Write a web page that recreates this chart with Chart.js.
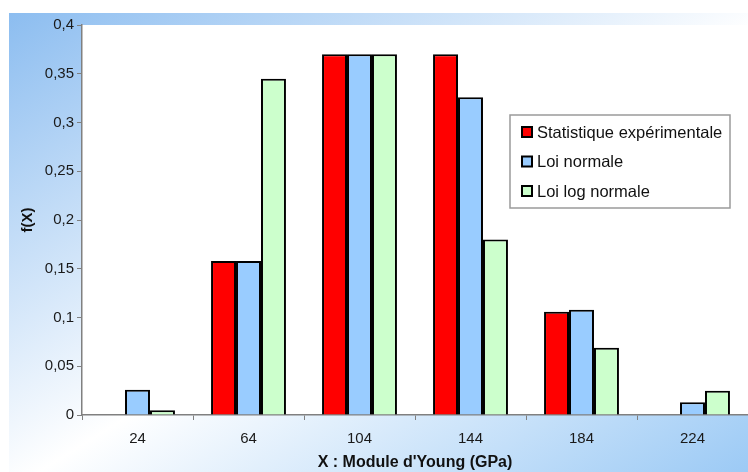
<!DOCTYPE html>
<html>
<head>
<meta charset="utf-8">
<script src="https://cdn.jsdelivr.net/npm/chart.js@4"></script>
<style>
  html, body { margin: 0; padding: 0; background: #ffffff; }
  #frame {
    position: absolute; left: 9px; top: 13px; width: 739px; height: 459px;
    background: linear-gradient(to bottom right, #8cbdf0 0%, #ffffff 52%, #9ccaf5 100%);
  }
</style>
</head>
<body>
<div id="frame"><canvas id="chart" width="739" height="459"></canvas></div>
<script>
// Distribution du module d'Young : statistique vs lois normale / log normale

const categories = ['24', '64', '104', '144', '184', '224'];
const seriesLabels = ['Statistique expérimentale', 'Loi normale', 'Loi log normale'];
const seriesColors = ['#ff0000', '#99ccff', '#ccffcc'];

const statExp = [0, 0.158, 0.37, 0.37, 0.106, 0];
const loiNormale = [0.026, 0.158, 0.37, 0.326, 0.108, 0.013];
const loiLogNormale = [0.005, 0.345, 0.37, 0.18, 0.069, 0.025];

const yTickLabels = ['0', '0,05', '0,1', '0,15', '0,2', '0,25', '0,3', '0,35', '0,4'];

const FONT = '"Liberation Sans", Arial, sans-serif';

// white plot area + custom legend box
const plotBackground = {
  id: 'plotBackground',
  beforeDraw(chart) {
    const { ctx, chartArea } = chart;
    ctx.save();
    ctx.fillStyle = '#ffffff';
    ctx.fillRect(chartArea.left, chartArea.top, chartArea.right - chartArea.left, chartArea.bottom - chartArea.top);
    ctx.restore();
  },
};

const boxLegend = {
  id: 'boxLegend',
  afterDraw(chart) {
    const ctx = chart.ctx;
    const x = 501, y = 102, w = 220, h = 93;
    ctx.save();
    ctx.fillStyle = '#ffffff';
    ctx.fillRect(x, y, w, h);
    ctx.strokeStyle = '#9a9a9a';
    ctx.lineWidth = 1.5;
    ctx.strokeRect(x, y, w, h);
    ctx.font = '16.5px ' + FONT;
    ctx.textBaseline = 'middle';
    chart.data.datasets.forEach((ds, i) => {
      const cy = y + 17 + i * 29.5;
      ctx.fillStyle = ds.backgroundColor;
      ctx.fillRect(x + 12, cy - 5, 10, 10);
      ctx.strokeStyle = '#000000';
      ctx.lineWidth = 2;
      ctx.strokeRect(x + 12, cy - 5, 10, 10);
      ctx.fillStyle = '#111111';
      ctx.fillText(ds.label, x + 27, cy + 1);
    });
    ctx.restore();
  },
};

const seriesData = [statExp, loiNormale, loiLogNormale];

new Chart(document.getElementById('chart'), {
  type: 'bar',
  data: {
    labels: categories,
    datasets: seriesData.map((d, i) => ({
      label: seriesLabels[i],
      data: d,
      backgroundColor: seriesColors[i],
      borderColor: '#000000',
      borderWidth: 2,
      categoryPercentage: 0.675,
      barPercentage: 1,
    })),
  },
  options: {
    responsive: false,
    animation: false,
    layout: { padding: { top: 12, right: 0, left: 0, bottom: 0 } },
    plugins: {
      legend: { display: false },
      tooltip: { enabled: false },
    },
    scales: {
      x: {
        offset: true,
        grid: {
          offset: true,
          drawOnChartArea: false,
          tickLength: 5,
          color: '#808080',
        },
        border: { color: '#808080', width: 1.5 },
        ticks: { color: '#1a1a1a', font: { family: FONT, size: 15 }, padding: 10 },
        title: {
          display: true,
          text: "X : Module d'Young (GPa)",
          color: '#111111',
          font: { family: FONT, size: 16, weight: 'bold' },
          padding: { top: 2, bottom: 0 },
        },
        afterFit(scale) { scale.height = 57; },
      },
      y: {
        min: 0,
        max: 0.4,
        grid: { drawOnChartArea: false, tickLength: 5, color: '#808080' },
        border: { color: '#808080', width: 1.5 },
        ticks: {
          stepSize: 0.05,
          color: '#1a1a1a',
          font: { family: FONT, size: 15 },
          padding: 3,
          callback: (v, i) => yTickLabels[i],
        },
        title: {
          display: true,
          text: 'f(X)',
          color: '#111111',
          font: { family: FONT, size: 15, weight: 'bold' },
          padding: { top: 10, bottom: 0 },
        },
        afterFit(scale) { scale.width = 73; },
      },
    },
  },
  plugins: [plotBackground, boxLegend],
});
</script>
</body>
</html>
